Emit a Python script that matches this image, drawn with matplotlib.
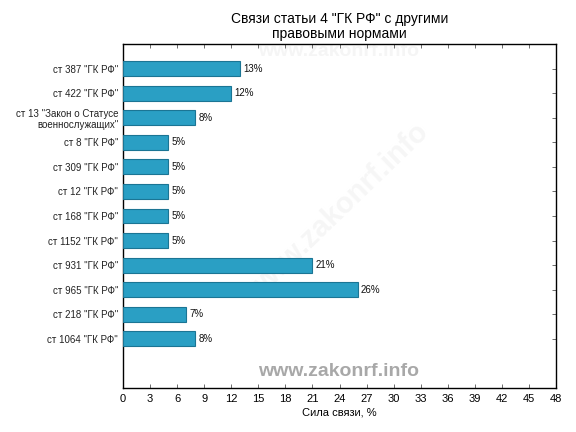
import matplotlib
matplotlib.use("Agg")
import matplotlib.pyplot as plt

categories = ['ст 387 "ГК РФ"', 'ст 422 "ГК РФ"', 'ст 13 "Закон о Статусе\nвоеннослужащих"',
              'ст 8 "ГК РФ"', 'ст 309 "ГК РФ"', 'ст 12 "ГК РФ"', 'ст 168 "ГК РФ"',
              'ст 1152 "ГК РФ"', 'ст 931 "ГК РФ"', 'ст 965 "ГК РФ"', 'ст 218 "ГК РФ"',
              'ст 1064 "ГК РФ"']
values = [13, 12, 8, 5, 5, 5, 5, 5, 21, 26, 7, 8]
xticks = list(range(0, 49, 3))

plt.rcParams['font.family'] = ['Liberation Sans', 'DejaVu Sans']

fig = plt.figure(figsize=(5.76, 4.32), dpi=100)
ax = fig.add_axes([123/576, 44/432, (556-123)/576, (388-44)/432])

ypos = list(range(len(categories)))
ax.barh(ypos, values, height=0.6, color='#2a9fc4', edgecolor='#1b7594', linewidth=0.8, zorder=3)
for y, v in zip(ypos, values):
    ax.text(v + 0.35, y, f'{v}%', va='center', ha='left', fontsize=7, color='#111111', zorder=4)

ax.set_ylim(12.5 + 0.5, -1)
ax.set_xlim(0, 48)
ax.set_yticks(ypos)
ax.set_yticklabels(categories, fontsize=7, color='#222222')
ax.set_xticks(xticks)
ax.set_xticklabels([str(t) for t in xticks], fontsize=8)
ax.tick_params(axis='both', direction='in', top=True, right=True, length=3, width=0.6, color='#555555')
ax.tick_params(axis='x', pad=4)
for s in ax.spines.values():
    s.set_linewidth(1.0)
    s.set_color('black')
ax.set_xlabel('Сила связи, %', fontsize=8, labelpad=3)
ax.set_title('Связи статьи 4 "ГК РФ" с другими\nправовыми нормами', fontsize=10, pad=4, linespacing=1.15)

# watermarks (behind bars)
ax.text(339/576, 1 - 372/432, 'www.zakonrf.info', fontsize=14, fontweight='bold', color='#a8a8a8',
        ha='center', va='center', zorder=5, transform=fig.transFigure)
ax.text(339/576, 1 - 52/432, 'www.zakonrf.info', fontsize=14, fontweight='bold', color='#f5f5f5',
        ha='center', va='center', zorder=1, transform=fig.transFigure, clip_on=True)
ax.text(338/576, 1 - 212/432, 'www.zakonrf.info', fontsize=21, fontweight='bold', color='#f6f6f6',
        ha='center', va='center', rotation=44, zorder=1, transform=fig.transFigure)

fig.savefig('out.png', dpi=100)
